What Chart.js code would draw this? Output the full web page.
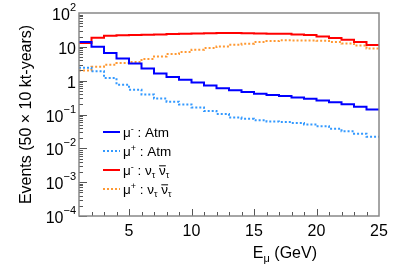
<!DOCTYPE html>
<html>
<head>
<meta charset="utf-8">
<script src="https://cdn.jsdelivr.net/npm/chart.js@4/dist/chart.umd.min.js"></script>
<style>
html, body { margin: 0; padding: 0; background: #fff; }
</style>
</head>
<body>
<canvas id="canvas" width="399" height="270"></canvas>
<script>
// bin edges in GeV, 1 GeV bins
var binEdges = [1, 2, 3, 4, 5, 6, 7, 8, 9, 10, 11, 12, 13, 14, 15, 16, 17, 18, 19, 20, 21, 22, 23, 24, 25];
var atmMinus = [13.9, 10.1, 6.6, 4.5, 3.2, 2.3, 1.63, 1.28, 1.06, 0.885, 0.72, 0.60, 0.52, 0.46, 0.41, 0.375, 0.35, 0.32, 0.29, 0.26, 0.23, 0.20, 0.17, 0.14];
var atmPlus = [2.4, 1.9, 1.19, 0.76, 0.54, 0.39, 0.295, 0.24, 0.198, 0.161, 0.126, 0.103, 0.081, 0.075, 0.068, 0.062, 0.060, 0.056, 0.051, 0.045, 0.038, 0.032, 0.027, 0.022];
var tauMinus = [12.9, 18.6, 21.3, 22.0, 22.4, 22.8, 23.3, 23.9, 24.4, 24.7, 25.2, 25.6, 25.6, 25.2, 24.7, 24.4, 24.4, 23.3, 22.4, 20.3, 18.2, 16.2, 13.9, 11.3];
var tauPlus = [2.0, 2.6, 2.95, 3.3, 3.55, 4.4, 5.2, 6.1, 7.0, 8.2, 9.2, 10.3, 11.5, 12.4, 13.9, 14.8, 15.7, 15.5, 15.5, 15.1, 13.9, 12.6, 11.0, 9.0];

var xTicks = [5, 10, 15, 20, 25];
var yTicks = [1e-4, 1e-3, 1e-2, 1e-1, 1, 10, 100];
// ^ = superscript, _ = subscript, ~ = overline; applies to next char or a {group}
var yTickLabels = ['10^{−4}', '10^{−3}', '10^{−2}', '10^{−1}', '1', '10', '10^{2}'];
var seriesLabels = ['μ^- : Atm', 'μ^+ : Atm', 'μ^- : ν_τ ~ν_τ', 'μ^+ : ν_τ ~ν_τ'];
var xTitle = 'E_μ (GeV)';
var yTitle = 'Events (50 × 10 kt-years)';

var FONT = '"Liberation Sans", Arial, Helvetica, sans-serif';

function hist(values) {
    var pts = values.map(function(v, i) { return {x: binEdges[i], y: v}; });
    pts.push({x: binEdges[values.length], y: values[values.length - 1]});
    return pts;
}

function series(label, values, color, dotted) {
    return {
        label: label,
        data: hist(values),
        borderColor: color,
        borderWidth: 2,
        borderDash: dotted ? [2, 2] : [],
        stepped: true,
        pointRadius: 0,
        fill: false
    };
}

var datasets = [
    series(seriesLabels[0], atmMinus, 'rgb(0, 0, 255)', false),
    series(seriesLabels[1], atmPlus, 'rgb(51, 153, 255)', true),
    series(seriesLabels[2], tauMinus, 'rgb(255, 0, 0)', false),
    series(seriesLabels[3], tauPlus, 'rgb(255, 153, 51)', true)
];

function tokens(str) {
    var out = [];
    for (var i = 0; i < str.length; i++) {
        var c = str[i], mode = '';
        if ((c === '^' || c === '_' || c === '~') && i + 1 < str.length) {
            mode = c;
            i++;
            if (str[i] === '{') {
                var j = str.indexOf('}', i);
                c = str.slice(i + 1, j);
                i = j;
            } else {
                c = str[i];
            }
        }
        out.push({t: c, mode: mode});
    }
    return out;
}

// draws text with simple super/subscript markup, returns end x
function drawRich(ctx, str, x, y, size, small, raise, draw) {
    tokens(str).forEach(function(tk) {
        var fs = (tk.mode === '^' || tk.mode === '_') ? small : size;
        ctx.font = fs + 'px ' + FONT;
        var dy = tk.mode === '^' ? -raise : (tk.mode === '_' ? size * 0.22 : 0);
        var w = ctx.measureText(tk.t).width;
        if (draw) {
            ctx.fillText(tk.t, x, y + dy);
            if (tk.mode === '~') {
                ctx.beginPath();
                ctx.lineWidth = 1;
                ctx.moveTo(x, y - size * 0.68);
                ctx.lineTo(x + w, y - size * 0.68);
                ctx.stroke();
            }
        }
        x += w;
    });
    return x;
}

var framePlugin = {
    id: 'frame',
    afterDatasetsDraw: function(chart) {
        var ctx = chart.ctx, a = chart.chartArea;
        var xs = chart.scales.x, ys = chart.scales.y;
        ctx.save();
        ctx.strokeStyle = '#555';
        ctx.lineWidth = 1;
        ctx.beginPath();
        // y ticks (major + minor) inside the left axis
        for (var k = -4; k <= 1; k++) {
            for (var m = 1; m <= 9; m++) {
                var py = Math.round(ys.getPixelForValue(m * Math.pow(10, k))) + 0.5;
                var len = m === 1 ? 8 : 4;
                ctx.moveTo(a.left, py);
                ctx.lineTo(a.left + len, py);
            }
        }
        // x ticks every 1 GeV, major every 5
        for (var v = 2; v < 25; v++) {
            var px = Math.round(xs.getPixelForValue(v)) + 0.5;
            var l = v % 5 === 0 ? 7 : 4;
            ctx.moveTo(px, a.bottom);
            ctx.lineTo(px, a.bottom - l);
        }
        ctx.stroke();

        // frame
        ctx.strokeStyle = '#888';
        ctx.lineWidth = 1.5;
        ctx.strokeRect(a.left, a.top, a.right - a.left, a.bottom - a.top);

        ctx.fillStyle = '#000';
        ctx.strokeStyle = '#000';
        ctx.textBaseline = 'alphabetic';
        ctx.textAlign = 'left';

        // y tick labels
        yTicks.forEach(function(t, i) {
            var py = ys.getPixelForValue(t);
            var w = drawRich(ctx, yTickLabels[i], 0, 0, 16, 11, 9, false);
            drawRich(ctx, yTickLabels[i], a.left - 3 - w, py + 7, 16, 11, 9, true);
        });

        // legend
        datasets.forEach(function(ds, i) {
            var ry = a.top + 119 + i * 19;
            ctx.save();
            ctx.strokeStyle = ds.borderColor;
            ctx.lineWidth = 2;
            ctx.setLineDash(ds.borderDash);
            ctx.beginPath();
            ctx.moveTo(a.left + 24, ry);
            ctx.lineTo(a.left + 41, ry);
            ctx.stroke();
            ctx.restore();
            drawRich(ctx, seriesLabels[i], a.left + 44, ry + 5, 13.5, 9, 5, true);
        });

        // x title, right part of the axis
        var w = drawRich(ctx, xTitle, 0, 0, 16, 11, 6, false);
        drawRich(ctx, xTitle, a.right - 62 - w, 258, 16, 11, 6, true);
        ctx.restore();
    }
};

window.onload = function() {
    var ctx = document.getElementById('canvas').getContext('2d');
    window.myChart = new Chart(ctx, {
        type: 'line',
        data: { datasets: datasets },
        plugins: [framePlugin],
        options: {
            responsive: false,
            animation: false,
            layout: { padding: { top: 13, right: 20, left: 0, bottom: 0 } },
            plugins: {
                legend: { display: false },
                tooltip: { enabled: false }
            },
            scales: {
                x: {
                    type: 'linear',
                    min: 1,
                    max: 25,
                    grid: { display: false },
                    border: { display: false },
                    afterBuildTicks: function(scale) {
                        scale.ticks = xTicks.map(function(v) { return {value: v}; });
                    },
                    afterFit: function(scale) { scale.height = 54; },
                    ticks: {
                        color: '#000',
                        padding: -2,
                        maxRotation: 0,
                        font: { family: FONT, size: 16 }
                    }
                },
                y: {
                    type: 'logarithmic',
                    min: 1e-4,
                    max: 100,
                    grid: { display: false },
                    border: { display: false },
                    afterBuildTicks: function(scale) {
                        scale.ticks = yTicks.map(function(v) { return {value: v}; });
                    },
                    afterFit: function(scale) { scale.width = 79; },
                    ticks: { display: false },
                    title: {
                        display: true,
                        text: yTitle,
                        color: '#000',
                        padding: { top: 17, bottom: 0 },
                        font: { family: FONT, size: 16 }
                    }
                }
            }
        }
    });
};
</script>
</body>
</html>
